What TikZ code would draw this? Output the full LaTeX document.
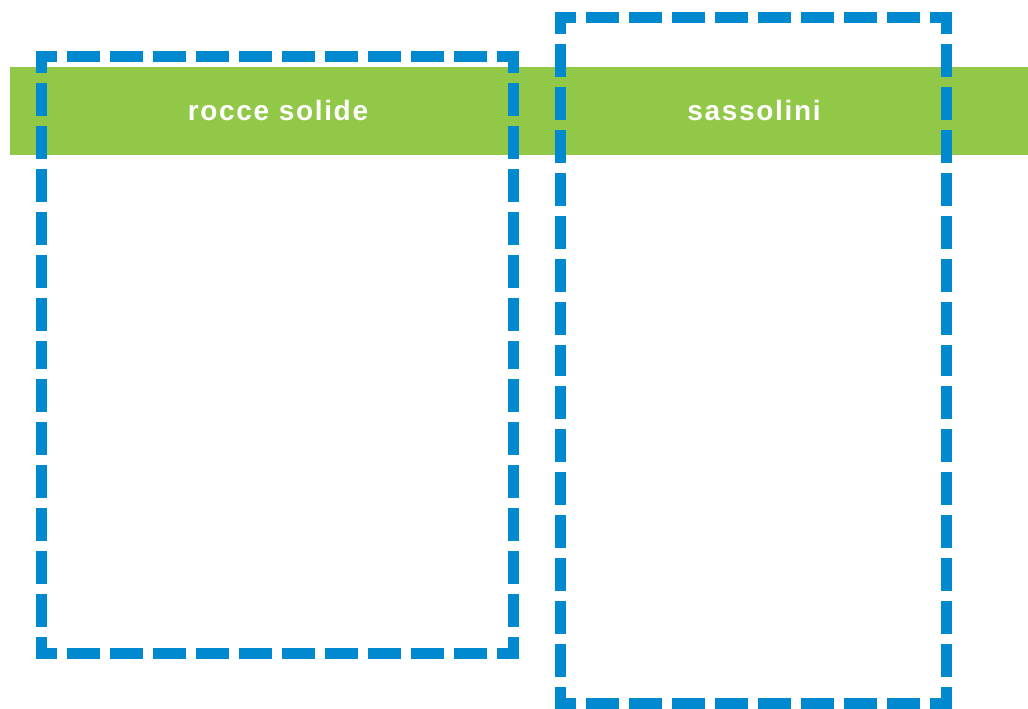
\documentclass[tikz,border=0pt]{standalone}
\usepackage{fontspec}
\setmainfont{Liberation Sans}
\newfontfamily\labelfont[LetterSpace=6,BoldFont=Liberation Sans Bold]{Liberation Sans}
\usetikzlibrary{calc}
\definecolor{bandgreen}{RGB}{146,200,72}
\definecolor{boxblue}{RGB}{0,137,207}
\tikzset{
  dashside/.style={draw=boxblue, line width=11pt, line cap=rect,
    dash pattern=on 22pt off 21pt, dash phase=11.5pt},
  bandlabel/.style={font=\labelfont\bfseries\fontsize{28}{33}\selectfont, text=white, anchor=base, inner sep=0pt}
}
\begin{document}
\begin{tikzpicture}[x=1pt,y=-1pt]
\useasboundingbox (0,0) rectangle (1028,709);
\fill[white] (0,0) rectangle (1028,709);
% green band
\fill[bandgreen] (10,67) rectangle (1028,155);
% left box corners
\coordinate (a1) at (41,57);
\coordinate (a2) at (513,57);
\coordinate (a3) at (513,653);
\coordinate (a4) at (41,653);
% right box corners
\coordinate (b1) at (560,18);
\coordinate (b2) at (946,18);
\coordinate (b3) at (946,703);
\coordinate (b4) at (560,703);
\foreach \p/\q in {a1/a2,a2/a1,a2/a3,a3/a2,a3/a4,a4/a3,a4/a1,a1/a4,
                   b1/b2,b2/b1,b2/b3,b3/b2,b3/b4,b4/b3,b4/b1,b1/b4}
  \draw[dashside] (\p) -- ($(\p)!0.5!(\q)$);
\node[bandlabel] (rocce) at (278,121) {rocce solide};
\node[bandlabel] (sass) at (754,121) {sassolini};
\end{tikzpicture}
\end{document}
